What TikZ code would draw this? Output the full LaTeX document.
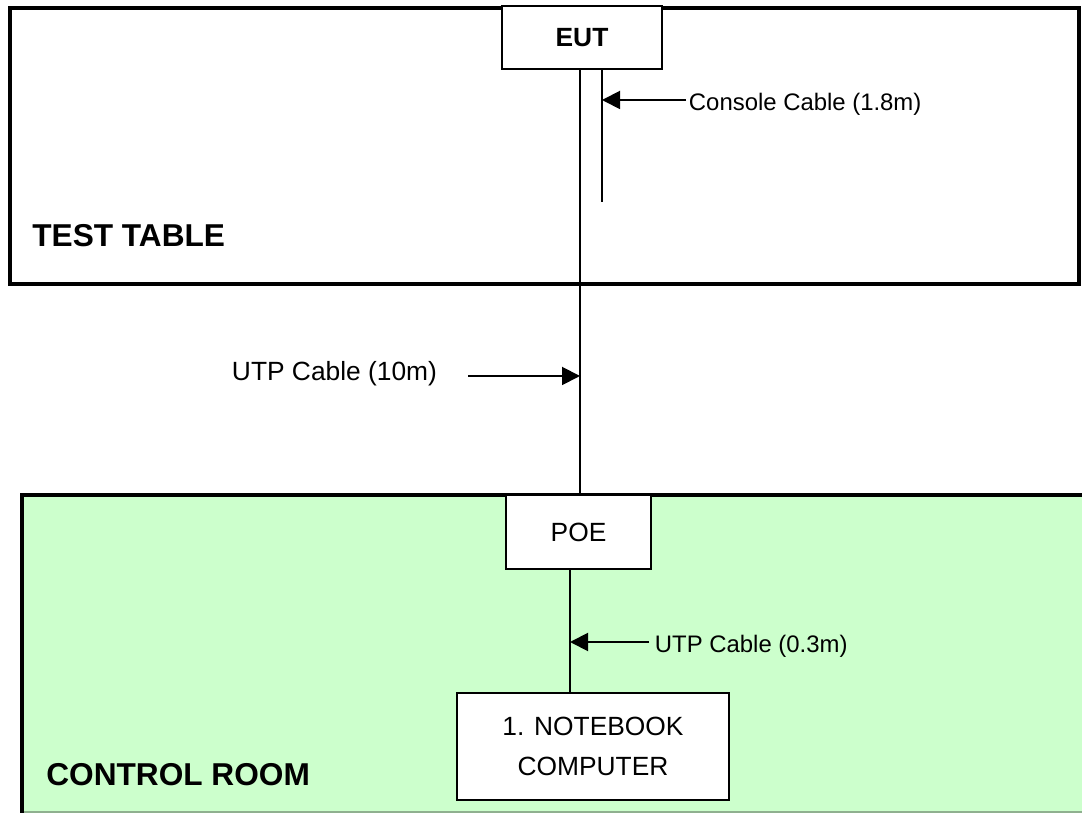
\documentclass[tikz,border=0pt]{standalone}
\usepackage{fontspec}
\setmainfont{Liberation Sans}
\usepackage{tikz}
\usetikzlibrary{arrows.meta}

\definecolor{roomgreen}{HTML}{CCFFCC}
\definecolor{roomedge}{HTML}{8FB08F}

\tikzset{
  unit/.style={draw, fill=white, line width=1.1pt, inner sep=0pt,
    font=\fontsize{15}{22.7}\selectfont, align=center},
  cable/.style={line width=1.2pt},
  pointer/.style={line width=1.1pt, -{Triangle[length=0.36cm, width=0.36cm]}},
  lbl/.style={inner sep=1.5pt, font=\fontsize{13.6}{16}\selectfont},
  area/.style={inner sep=0pt, font=\fontsize{18}{20}\selectfont\bfseries},
}

\begin{document}
\begin{tikzpicture}[x=0.02cm, y=-0.02cm]
    \useasboundingbox (0,0) rectangle (1082,813);

    % test table
    \draw [line width=2.6pt] (10,8) rectangle (1079,284);
    \node [area, anchor=west] (testtable) at (32,236) {TEST TABLE};

    % control room
    \fill [roomgreen] (22,495) rectangle (1082,812);
    \draw [line width=0.8pt, color=roomedge] (22,812) -- (1082,812);
    \draw [line width=2.6pt] (22,813) -- (22,495) -- (1082,495);
    \node [area, anchor=west] (controlroom) at (46,775) {CONTROL ROOM};

    % units
    \node [unit, minimum width=3.2cm, minimum height=1.26cm,
      font=\fontsize{15}{18}\selectfont\bfseries] (eut) at (582,37.5) {EUT};
    \node [unit, minimum width=2.9cm, minimum height=1.48cm] (poe) at (578.5,532) {POE};
    \node [unit, minimum width=5.44cm, minimum height=2.14cm] (nb) at (593,746.5)
      {1. NOTEBOOK\\COMPUTER};

    % cables
    \coordinate (utp) at (580,0);
    \coordinate (conend) at (602,202);
    \coordinate (nbcab) at (570,0);
    \draw [cable] (utp |- eut.south) -- (utp |- poe.north);
    \draw [cable] (conend |- eut.south) -- (conend);
    \draw [cable] (nbcab |- poe.south) -- (nbcab |- nb.north);

    % cable labels
    \node [lbl, anchor=west] (conlbl) at (686,104) {Console Cable (1.8m)};
    \draw [pointer] (conlbl.west |- 0,100) -- (conend |- 0,100);

    \node [lbl, anchor=east, font=\fontsize{15}{18}\selectfont] (utplbl) at (440,374)
      {UTP Cable (10m)};
    \coordinate (utptail) at (468,376);
    \draw [pointer] (utptail) -- (utptail -| utp);

    \node [lbl, anchor=west] (nblbl) at (652,646) {UTP Cable (0.3m)};
    \coordinate (nbtail) at (649,642);
    \draw [pointer] (nbtail) -- (nbtail -| nbcab);
\end{tikzpicture}
\end{document}
